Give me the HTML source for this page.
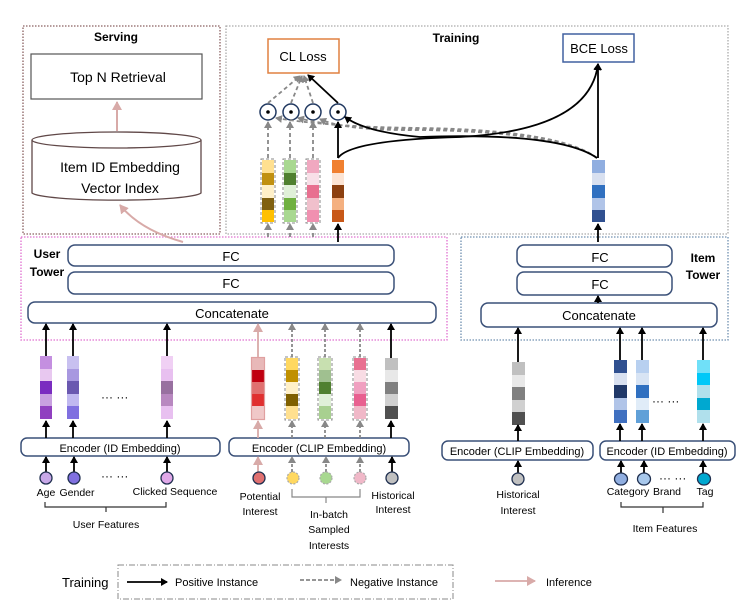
<!DOCTYPE html>
<html><head><meta charset="utf-8"><style>body{margin:0;background:#fff}svg{display:block}text{font-family:"Liberation Sans",sans-serif}</style></head><body>
<svg width="749" height="613" viewBox="0 0 749 613" xmlns="http://www.w3.org/2000/svg">
<defs>
<marker id="ab" markerWidth="8" markerHeight="8" refX="6" refY="4" orient="auto" markerUnits="userSpaceOnUse"><path d="M0,0 L7,4 L0,8 z" fill="#000"/></marker>
<marker id="ag" markerWidth="8" markerHeight="8" refX="6" refY="4" orient="auto" markerUnits="userSpaceOnUse"><path d="M0,0 L7,4 L0,8 z" fill="#888"/></marker>
<marker id="ap" markerWidth="10" markerHeight="10" refX="8" refY="5" orient="auto" markerUnits="userSpaceOnUse"><path d="M0,0 L9,5 L0,10 z" fill="#d8aaa8"/></marker>
</defs>
<!-- group boxes -->
<rect x="23" y="26" width="197" height="208" fill="none" stroke="#8a6060" stroke-width="1.3" stroke-dasharray="1.5,1.5"/>
<rect x="226" y="26" width="502" height="208" fill="none" stroke="#aaa" stroke-width="1.3" stroke-dasharray="1.5,1.5"/>
<rect x="21" y="237" width="426" height="103" fill="none" stroke="#e070d0" stroke-width="1.3" stroke-dasharray="1.5,1.5"/>
<rect x="461" y="237" width="267" height="103" fill="none" stroke="#7090b0" stroke-width="1.3" stroke-dasharray="1.5,1.5"/>
<text x="116" y="41" font-size="12" font-weight="bold" text-anchor="middle">Serving</text>
<text x="456" y="42" font-size="12" font-weight="bold" text-anchor="middle">Training</text>
<text x="47" y="258" font-size="12" font-weight="bold" text-anchor="middle">User</text>
<text x="47" y="276" font-size="12" font-weight="bold" text-anchor="middle">Tower</text>
<text x="703" y="262" font-size="12" font-weight="bold" text-anchor="middle">Item</text>
<text x="703" y="279" font-size="12" font-weight="bold" text-anchor="middle">Tower</text>
<!-- serving -->
<rect x="31" y="54" width="171" height="45" fill="#fff" stroke="#555" stroke-width="1.2"/>
<text x="118" y="82" font-size="14" text-anchor="middle">Top N Retrieval</text>
<path d="M32,140 L32,193 A85,8 0 0 0 201,193 L201,140" fill="#fff" stroke="#604848" stroke-width="1.3"/>
<ellipse cx="116.5" cy="140" rx="84.5" ry="8" fill="#fff" stroke="#604848" stroke-width="1.3"/>
<text x="120" y="172" font-size="14" text-anchor="middle">Item ID Embedding</text>
<text x="120" y="193" font-size="14" text-anchor="middle">Vector Index</text>
<line x1="117" y1="131" x2="117" y2="102" stroke="#d8aaa8" stroke-width="2" marker-end="url(#ap)"/>
<path d="M183,242 Q140,230 120,205" fill="none" stroke="#d8aaa8" stroke-width="2" marker-end="url(#ap)"/>
<!-- losses -->
<rect x="268" y="39" width="71" height="34" fill="#fff" stroke="#e08040" stroke-width="1.5"/>
<text x="303" y="61" font-size="13" text-anchor="middle">CL Loss</text>
<rect x="563" y="34" width="71" height="28" fill="#fff" stroke="#4060a0" stroke-width="1.5"/>
<text x="599" y="53" font-size="13" text-anchor="middle">BCE Loss</text>
<!-- circles -->
<g fill="#fff" stroke="#203860" stroke-width="1.5">
<circle cx="268" cy="112" r="8"/><circle cx="291" cy="112" r="8"/><circle cx="313" cy="112" r="8"/><circle cx="338" cy="112" r="8"/></g>
<g fill="#000"><circle cx="268" cy="112" r="1.8"/><circle cx="291" cy="112" r="1.8"/><circle cx="313" cy="112" r="1.8"/><circle cx="338" cy="112" r="1.8"/></g>
<g stroke="#888" stroke-width="1.8" stroke-dasharray="4,3" fill="none" marker-end="url(#ag)">
<line x1="268" y1="103" x2="300" y2="76"/><line x1="291" y1="103" x2="302" y2="76"/><line x1="313" y1="103" x2="304" y2="76"/>
<line x1="268" y1="158" x2="268" y2="122"/><line x1="290" y1="158" x2="290" y2="122"/><line x1="313" y1="158" x2="313" y2="122"/>
<path d="M597,158 Q560,130 420,128 Q330,127 276,118"/>
<path d="M597,158 Q560,131 420,129 Q340,129 298,118"/>
<path d="M597,158 Q560,132 420,130 Q345,131 320,119"/>
<line x1="268" y1="237" x2="268" y2="224"/><line x1="290" y1="237" x2="290" y2="224"/><line x1="313" y1="237" x2="313" y2="224"/>
</g>
<g stroke="#000" stroke-width="1.8" fill="none" marker-end="url(#ab)">
<line x1="338" y1="103" x2="308" y2="75"/>
<line x1="338" y1="158" x2="338" y2="122"/>
<path d="M597,158 Q560,132 420,137 Q365,132 345,117"/>
<path d="M338,158 Q350,140 460,137 Q590,130 598,64"/>
<line x1="598" y1="158" x2="598" y2="64"/>
<line x1="338" y1="242" x2="338" y2="224"/>
<line x1="598" y1="242" x2="598" y2="224"/>
</g>
<!-- vectors training -->
<g stroke="none">
<rect x="262" y="160" width="12" height="13" fill="#ffe090"/><rect x="262" y="173" width="12" height="12" fill="#c09010"/><rect x="262" y="185" width="12" height="13" fill="#fff0c8"/><rect x="262" y="198" width="12" height="12" fill="#806010"/><rect x="262" y="210" width="12" height="12" fill="#ffc000"/>
<rect x="284" y="160" width="12" height="13" fill="#a8d890"/><rect x="284" y="173" width="12" height="12" fill="#508030"/><rect x="284" y="185" width="12" height="13" fill="#e0f0d8"/><rect x="284" y="198" width="12" height="12" fill="#70b040"/><rect x="284" y="210" width="12" height="12" fill="#a8d890"/>
<rect x="307" y="160" width="12" height="13" fill="#f0a8c0"/><rect x="307" y="173" width="12" height="12" fill="#f8e0e8"/><rect x="307" y="185" width="12" height="13" fill="#e87090"/><rect x="307" y="198" width="12" height="12" fill="#f0c0cc"/><rect x="307" y="210" width="12" height="12" fill="#f090b0"/>
<rect x="332" y="160" width="12" height="13" fill="#f08030"/><rect x="332" y="173" width="12" height="12" fill="#fce4d4"/><rect x="332" y="185" width="12" height="13" fill="#8c4010"/><rect x="332" y="198" width="12" height="12" fill="#f4b080"/><rect x="332" y="210" width="12" height="12" fill="#c85818"/>
<rect x="592" y="160" width="13" height="13" fill="#90aee0"/><rect x="592" y="173" width="13" height="12" fill="#d8e0f0"/><rect x="592" y="185" width="13" height="13" fill="#3070c0"/><rect x="592" y="198" width="13" height="12" fill="#b0c4e8"/><rect x="592" y="210" width="13" height="12" fill="#305090"/>
</g>
<g fill="none" stroke="#888" stroke-dasharray="3,2"><rect x="261" y="159" width="14" height="64"/><rect x="283" y="159" width="14" height="64"/><rect x="306" y="159" width="14" height="64"/></g>
<!-- FC / concat -->
<g fill="#fff" stroke="#3a5078" stroke-width="1.5">
<rect x="68" y="245" width="326" height="21" rx="7"/><rect x="68" y="272" width="326" height="22" rx="7"/><rect x="28" y="302" width="408" height="21" rx="7"/>
<rect x="517" y="245" width="155" height="22" rx="7"/><rect x="517" y="272" width="155" height="23" rx="7"/><rect x="481" y="303" width="236" height="24" rx="7"/>
<rect x="21" y="438" width="199" height="18" rx="6"/><rect x="229" y="438" width="180" height="18" rx="6"/>
<rect x="442" y="441" width="151" height="19" rx="6"/><rect x="600" y="441" width="135" height="19" rx="6"/>
</g>
<g font-size="13" text-anchor="middle">
<text x="231" y="261">FC</text><text x="231" y="288">FC</text><text x="232" y="318">Concatenate</text>
<text x="600" y="262">FC</text><text x="600" y="289">FC</text><text x="599" y="320">Concatenate</text>
</g>
<g font-size="11" text-anchor="middle">
<text x="120" y="452">Encoder (ID Embedding)</text><text x="319" y="452">Encoder (CLIP Embedding)</text>
<text x="517" y="455">Encoder (CLIP Embedding)</text><text x="667" y="455">Encoder (ID Embedding)</text>
</g>
<!-- lower vectors -->
<g stroke="none">
<rect x="40" y="356" width="12" height="13" fill="#c48fe0"/><rect x="40" y="369" width="12" height="12" fill="#e8c8f0"/><rect x="40" y="381" width="12" height="13" fill="#7a2cc0"/><rect x="40" y="394" width="12" height="12" fill="#c8a0e0"/><rect x="40" y="406" width="12" height="13" fill="#9040c0"/>
<rect x="67" y="356" width="12" height="13" fill="#c8c0f0"/><rect x="67" y="369" width="12" height="12" fill="#a898e0"/><rect x="67" y="381" width="12" height="13" fill="#6a58b0"/><rect x="67" y="394" width="12" height="12" fill="#c0b8f0"/><rect x="67" y="406" width="12" height="13" fill="#8070e0"/>
<rect x="161" y="356" width="12" height="13" fill="#f0d0f4"/><rect x="161" y="369" width="12" height="12" fill="#e8c0f0"/><rect x="161" y="381" width="12" height="13" fill="#9870a0"/><rect x="161" y="394" width="12" height="12" fill="#b888c0"/><rect x="161" y="406" width="12" height="13" fill="#e8c0f0"/>
<rect x="252" y="358" width="12" height="12" fill="#e8b8b8"/><rect x="252" y="370" width="12" height="12" fill="#c00010"/><rect x="252" y="382" width="12" height="12" fill="#e07070"/><rect x="252" y="394" width="12" height="12" fill="#e03030"/><rect x="252" y="406" width="12" height="13" fill="#f0c8c8"/>
<rect x="286" y="358" width="12" height="12" fill="#ffd860"/><rect x="286" y="370" width="12" height="12" fill="#c09000"/><rect x="286" y="382" width="12" height="12" fill="#fff0c8"/><rect x="286" y="394" width="12" height="12" fill="#806000"/><rect x="286" y="406" width="12" height="13" fill="#ffe090"/>
<rect x="319" y="358" width="12" height="12" fill="#c8e0b0"/><rect x="319" y="370" width="12" height="12" fill="#a0c090"/><rect x="319" y="382" width="12" height="12" fill="#508030"/><rect x="319" y="394" width="12" height="12" fill="#e0f0d8"/><rect x="319" y="406" width="12" height="13" fill="#a8d090"/>
<rect x="354" y="358" width="12" height="12" fill="#e87090"/><rect x="354" y="370" width="12" height="12" fill="#f8dce4"/><rect x="354" y="382" width="12" height="12" fill="#f0a0c0"/><rect x="354" y="394" width="12" height="12" fill="#e86090"/><rect x="354" y="406" width="12" height="13" fill="#f0b8c8"/>
<rect x="385" y="358" width="13" height="12" fill="#c0c0c0"/><rect x="385" y="370" width="13" height="12" fill="#e8e8e8"/><rect x="385" y="382" width="13" height="12" fill="#808080"/><rect x="385" y="394" width="13" height="12" fill="#d0d0d0"/><rect x="385" y="406" width="13" height="13" fill="#505050"/>
<rect x="512" y="362" width="13" height="13" fill="#c0c0c0"/><rect x="512" y="375" width="13" height="12" fill="#e8e8e8"/><rect x="512" y="387" width="13" height="13" fill="#808080"/><rect x="512" y="400" width="13" height="12" fill="#d0d0d0"/><rect x="512" y="412" width="13" height="13" fill="#505050"/>
<rect x="614" y="360" width="13" height="13" fill="#305090"/><rect x="614" y="373" width="13" height="12" fill="#d8e0f0"/><rect x="614" y="385" width="13" height="13" fill="#203868"/><rect x="614" y="398" width="13" height="12" fill="#b0c4e8"/><rect x="614" y="410" width="13" height="13" fill="#4070c0"/>
<rect x="636" y="360" width="13" height="13" fill="#b8d0f0"/><rect x="636" y="373" width="13" height="12" fill="#d8e4f4"/><rect x="636" y="385" width="13" height="13" fill="#3070c0"/><rect x="636" y="398" width="13" height="12" fill="#e0ecf8"/><rect x="636" y="410" width="13" height="13" fill="#60a0d8"/>
<rect x="697" y="360" width="13" height="13" fill="#70e0f8"/><rect x="697" y="373" width="13" height="12" fill="#00c8f8"/><rect x="697" y="385" width="13" height="13" fill="#b0e0ec"/><rect x="697" y="398" width="13" height="12" fill="#00a8d0"/><rect x="697" y="410" width="13" height="13" fill="#b0e0ec"/>
</g>
<rect x="251.5" y="357.5" width="13" height="62" fill="none" stroke="#e0a0a0" stroke-width="1.2"/>
<g fill="none" stroke="#888" stroke-dasharray="3,2"><rect x="285" y="357" width="14" height="63"/><rect x="318" y="357" width="14" height="63"/><rect x="353" y="357" width="14" height="63"/></g>
<g font-size="12"><text x="101" y="401">··· ···</text><text x="652" y="405">··· ···</text><text x="101" y="480">··· ···</text><text x="659" y="482">··· ···</text></g>
<!-- vertical arrows lower -->
<g stroke="#000" stroke-width="1.8" fill="none" marker-end="url(#ab)">
<line x1="46" y1="356" x2="46" y2="324"/><line x1="73" y1="356" x2="73" y2="324"/><line x1="167" y1="356" x2="167" y2="324"/><line x1="391" y1="358" x2="391" y2="324"/>
<line x1="46" y1="438" x2="46" y2="421"/><line x1="73" y1="438" x2="73" y2="421"/><line x1="167" y1="438" x2="167" y2="421"/><line x1="391" y1="438" x2="391" y2="421"/>
<line x1="46" y1="472" x2="46" y2="457"/><line x1="74" y1="472" x2="74" y2="457"/><line x1="167" y1="472" x2="167" y2="457"/><line x1="392" y1="472" x2="392" y2="457"/>
<line x1="518" y1="362" x2="518" y2="328"/><line x1="620" y1="360" x2="620" y2="328"/><line x1="642" y1="360" x2="642" y2="328"/><line x1="703" y1="360" x2="703" y2="328"/>
<line x1="518" y1="441" x2="518" y2="425"/><line x1="620" y1="441" x2="620" y2="424"/><line x1="642" y1="441" x2="642" y2="424"/><line x1="703" y1="441" x2="703" y2="424"/>
<line x1="518" y1="473" x2="518" y2="461"/><line x1="621" y1="473" x2="621" y2="461"/><line x1="644" y1="473" x2="644" y2="461"/><line x1="703" y1="473" x2="703" y2="461"/>
<line x1="598" y1="303" x2="598" y2="296"/>
</g>
<g stroke="#888" stroke-width="1.8" stroke-dasharray="3,2" fill="none" marker-end="url(#ag)">
<line x1="292" y1="357" x2="292" y2="324"/><line x1="325" y1="357" x2="325" y2="324"/><line x1="360" y1="357" x2="360" y2="324"/>
<line x1="292" y1="438" x2="292" y2="421"/><line x1="325" y1="438" x2="325" y2="421"/><line x1="360" y1="438" x2="360" y2="421"/>
<line x1="292" y1="472" x2="292" y2="457"/><line x1="326" y1="472" x2="326" y2="457"/><line x1="360" y1="472" x2="360" y2="457"/>
</g>
<g stroke="#d8aaa8" stroke-width="1.8" fill="none" marker-end="url(#ap)">
<line x1="258" y1="357" x2="258" y2="324"/><line x1="258" y1="438" x2="258" y2="421"/><line x1="258" y1="472" x2="258" y2="457"/>
</g>
<!-- feature circles -->
<g stroke="#203050" stroke-width="1.3">
<ellipse cx="46" cy="478" rx="6" ry="6" fill="#c8a8e8"/><ellipse cx="74" cy="478" rx="6" ry="6" fill="#8070e0"/><ellipse cx="167" cy="478" rx="6" ry="6" fill="#e0a8e8"/>
<ellipse cx="259" cy="478" rx="6" ry="6" fill="#e07070"/><ellipse cx="392" cy="478" rx="6" ry="6" fill="#c0c0c0"/>
<ellipse cx="518" cy="479" rx="6" ry="6" fill="#c0c0c0"/>
<ellipse cx="621" cy="479" rx="6.5" ry="6" fill="#90aee0"/><ellipse cx="644" cy="479" rx="6.5" ry="6" fill="#a8c8ec"/><ellipse cx="704" cy="479" rx="6.5" ry="6" fill="#00a8d0"/>
</g>
<g stroke="#aaa" stroke-width="1.2" stroke-dasharray="2,1.5">
<circle cx="293" cy="478" r="6" fill="#ffd860"/><circle cx="326" cy="478" r="6" fill="#a8d890"/><circle cx="360" cy="478" r="6" fill="#f0b8c8"/>
</g>
<!-- labels -->
<g font-size="10.5" text-anchor="middle">
<text x="46" y="496">Age</text><text x="77" y="496">Gender</text><text x="175" y="495">Clicked Sequence</text>
<text x="106" y="528">User Features</text>
<text x="260" y="500">Potential</text><text x="260" y="515">Interest</text>
<text x="329" y="518">In-batch</text><text x="329" y="533">Sampled</text><text x="329" y="549">Interests</text>
<text x="393" y="499">Historical</text><text x="393" y="513">Interest</text>
<text x="518" y="498">Historical</text><text x="518" y="514">Interest</text>
<text x="628" y="495">Category</text><text x="668" y="495" text-anchor="start" dx="-15">Brand</text><text x="705" y="495">Tag</text>
<text x="665" y="532">Item Features</text>
</g>
<g fill="none" stroke="#333" stroke-width="1.2">
<path d="M45,502 V507 H166 V502 M106,507 V512"/>
<path d="M292,489 V497 H360 V489 M326,497 V503" stroke="#888"/>
<path d="M621,502 V507 H703 V502 M663,507 V513"/>
</g>
<!-- legend -->
<text x="62" y="587" font-size="13">Training</text>
<rect x="118" y="565" width="335" height="34" fill="none" stroke="#888" stroke-dasharray="6,2,1,2"/>
<line x1="127" y1="582" x2="167" y2="582" stroke="#000" stroke-width="1.8" marker-end="url(#ab)"/>
<text x="175" y="586" font-size="11">Positive Instance</text>
<line x1="300" y1="580" x2="341" y2="580" stroke="#888" stroke-width="1.8" stroke-dasharray="4,2" marker-end="url(#ag)"/>
<text x="350" y="586" font-size="11">Negative Instance</text>
<line x1="495" y1="581" x2="535" y2="581" stroke="#d8aaa8" stroke-width="1.8" marker-end="url(#ap)"/>
<text x="546" y="586" font-size="11">Inference</text>
</svg>
</body></html>
